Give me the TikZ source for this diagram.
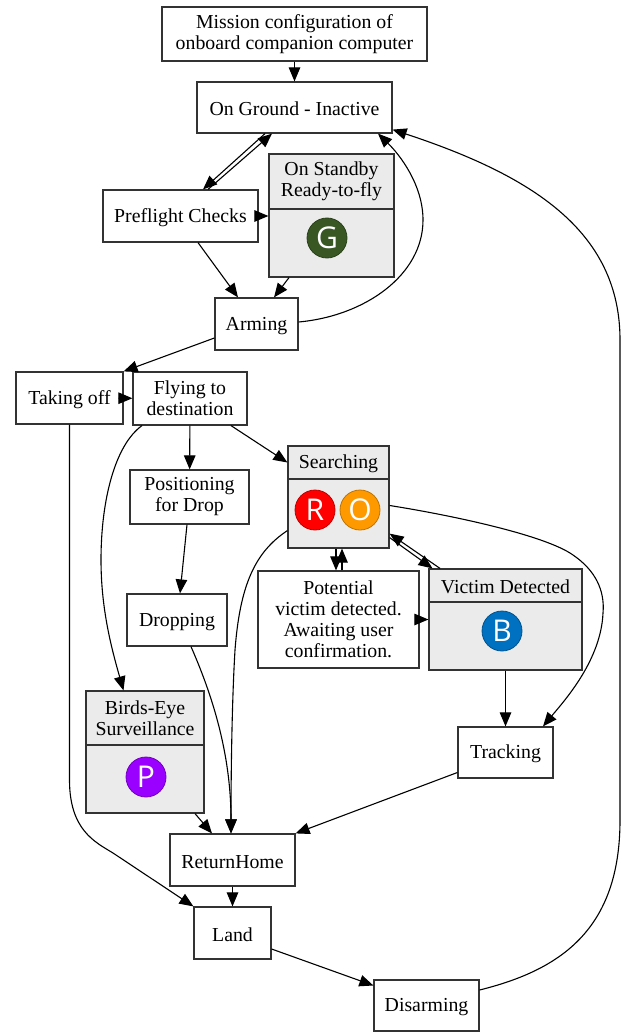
\documentclass[tikz,border=0pt]{standalone}
\usepackage{fontspec}
\setmainfont{Liberation Serif}
\newfontfamily\letterfont{Open Sans}
\usetikzlibrary{arrows.meta, calc}

\tikzset{
    state/.style={draw=black!80, line width=1.2pt, fill=white, font=\fontsize{19.8}{21}\selectfont, align=center, inner sep=0pt, execute at begin node={\rule{0pt}{17pt}}},
    grey/.style={state, fill=black!8},
    edge/.style={draw=black, line width=1.1pt, -{Triangle[length=14pt, width=11.5pt]}},
    badge/.style={circle, draw=#1!75!black, fill=#1, line width=0.8pt, minimum size=40pt, inner sep=0pt, text=white, font=\letterfont\fontsize{30}{30}\selectfont}
}

\begin{document}
\begin{tikzpicture}[x=1pt, y=-1pt]

\definecolor{gcol}{RGB}{56,87,35}
\definecolor{rcol}{RGB}{255,0,0}
\definecolor{ocol}{RGB}{255,153,0}
\definecolor{bcol}{RGB}{0,112,192}
\definecolor{pcol}{RGB}{153,0,255}

\useasboundingbox (0,0) rectangle (621,1032);

% Plain states
\node[state, minimum width=265pt, minimum height=54pt] (mission) at (294.5,34) {Mission configuration of\\onboard companion computer};
\node[state, minimum width=195pt, minimum height=51pt] (ground) at (294.5,107.5) {On Ground - Inactive};
\node[state, minimum width=155pt, minimum height=52pt] (preflight) at (180.5,216) {Preflight Checks};
\node[state, minimum width=83pt, minimum height=52pt] (arming) at (256.5,324) {Arming};
\node[state, minimum width=107pt, minimum height=52pt] (takeoff) at (69.5,398) {Taking off};
\node[state, minimum width=114pt, minimum height=53pt] (flying) at (190,398.5) {Flying to\\destination};
\node[state, minimum width=119pt, minimum height=54pt] (positioning) at (189.5,497) {Positioning\\for Drop};
\node[state, minimum width=100pt, minimum height=52pt] (dropping) at (177,620) {Dropping};
\node[state, minimum width=161pt, minimum height=97pt] (potential) at (338.5,619.5) {Potential\\victim detected.\\Awaiting user\\confirmation.};
\node[state, minimum width=95pt, minimum height=51pt] (tracking) at (505.5,752.5) {Tracking};
\node[state, minimum width=125pt, minimum height=52pt] (returnhome) at (232.5,860) {ReturnHome};
\node[state, minimum width=77pt, minimum height=52pt] (land) at (232.5,933) {Land};
\node[state, minimum width=105pt, minimum height=51pt] (disarming) at (426.5,1005.5) {Disarming};

% Grey states, heading above body
\node[grey, minimum width=125pt, minimum height=55pt] (standbyhead) at (331.5,181.5) {On Standby\\Ready-to-fly};
\node[grey, minimum width=125pt, minimum height=68pt] (standby) at (331.5,243) {};
\node[grey, minimum width=101pt, minimum height=33pt] (searchhead) at (338.5,462.5) {Searching};
\node[grey, minimum width=101pt, minimum height=69pt] (search) at (338.5,513.5) {};
\node[grey, minimum width=153pt, minimum height=33pt] (victimhead) at (505.5,585.5) {Victim Detected};
\node[grey, minimum width=153pt, minimum height=68pt] (victim) at (505.5,636) {};
\node[grey, minimum width=118pt, minimum height=54pt] (birdshead) at (145,718) {Birds-Eye\\Surveillance};
\node[grey, minimum width=118pt, minimum height=68pt] (birds) at (145,779) {};

% Letters
\node[badge=gcol] (g) at (327,238) {G};
\node[badge=rcol] (r) at (315,510) {R};
\node[badge=ocol] (o) at (360,510) {O};
\node[badge=bcol] (b) at (502,631) {B};
\node[badge=pcol] (p) at (146,777) {P};

% Straight edges
\draw[edge] (mission) -- (ground);
\draw[edge] ([xshift=-29.5pt]ground.south) -- ([xshift=22.5pt]preflight.north);
\draw[edge] ([xshift=27.5pt]preflight.north) -- ([xshift=-22.5pt]ground.south);
\draw[edge] (preflight.east) -- (preflight.east -| standby.west);
\draw[edge] ([xshift=17.5pt]preflight.south) -- ([xshift=-18.5pt]arming.north);
\draw[edge] ([xshift=-42.5pt]standby.south) -- ([xshift=17.5pt]arming.north);
\draw[edge] ([yshift=-14pt]arming.west) -- (takeoff.north east);
\draw[edge] (takeoff) -- (flying);
\draw[edge] (flying) -- (positioning);
\draw[edge] ([xshift=41pt]flying.south) -- (searchhead.west);
\draw[edge] ([xshift=-2.5pt]positioning.south) -- ([xshift=3pt]dropping.north);
\draw[edge] ([xshift=-2.5pt]search.south) -- ([xshift=-2.5pt]potential.north);
\draw[edge] ([xshift=3.5pt]potential.north) -- ([xshift=3.5pt]search.south);
\draw[edge] ([xshift=-65.5pt]victimhead.north) -- ([yshift=15pt]search.south east);
\draw[edge] ([yshift=11pt]search.south east) -- ([xshift=-73pt]victimhead.north);
\draw[edge] (potential.east) -- (potential.east -| victim.west);
\draw[edge] (victim) -- (tracking);
\draw[edge] ([yshift=-20pt]tracking.west) -- (returnhome.north east);
\draw[edge] ([xshift=50pt]birds.south) -- ([xshift=-20.5pt]returnhome.north);
\draw[edge] (returnhome) -- (land);
\draw[edge] ([yshift=-16pt]land.east) -- ([yshift=20pt]disarming.west);

% Curved edges
\draw[edge] ([yshift=2pt]arming.east) .. controls (365,316) and (423,275) .. (423,220)
    .. controls (423,185) and (400,155) .. ([xshift=83.5pt]ground.south);
\draw[edge] (takeoff.south) -- (69.5,780) .. controls (69.5,830) and (95,842) .. (113,853)
    -- (land.north west);
\draw[edge] ([xshift=-48pt]flying.south) .. controls (115,445) and (101,500) .. (101,560)
    .. controls (101,610) and (112,650) .. ([xshift=-21.5pt]birdshead.north);
\draw[edge] ([xshift=14pt]dropping.south) .. controls (210,690) and (231,750) .. ([xshift=-1.5pt]returnhome.north);
\draw[edge] ([yshift=18pt]search.south west) .. controls (255,552) and (240,585) .. (235,650)
    .. controls (232,700) and (231,770) .. ([xshift=-1.5pt]returnhome.north);
\draw[edge] ([yshift=8pt]search.east) .. controls (450,515) and (545,535) .. (573,555)
    .. controls (595,570) and (605,590) .. (603,613)
    .. controls (601,660) and (565,700) .. ([xshift=37.5pt]tracking.north);
\draw[edge] ([yshift=15.5pt]disarming.east) .. controls (560,970) and (620,930) .. (620,820)
    -- (620,340) .. controls (620,230) and (530,175) .. ([yshift=4pt]ground.south east);

\end{tikzpicture}
\end{document}
